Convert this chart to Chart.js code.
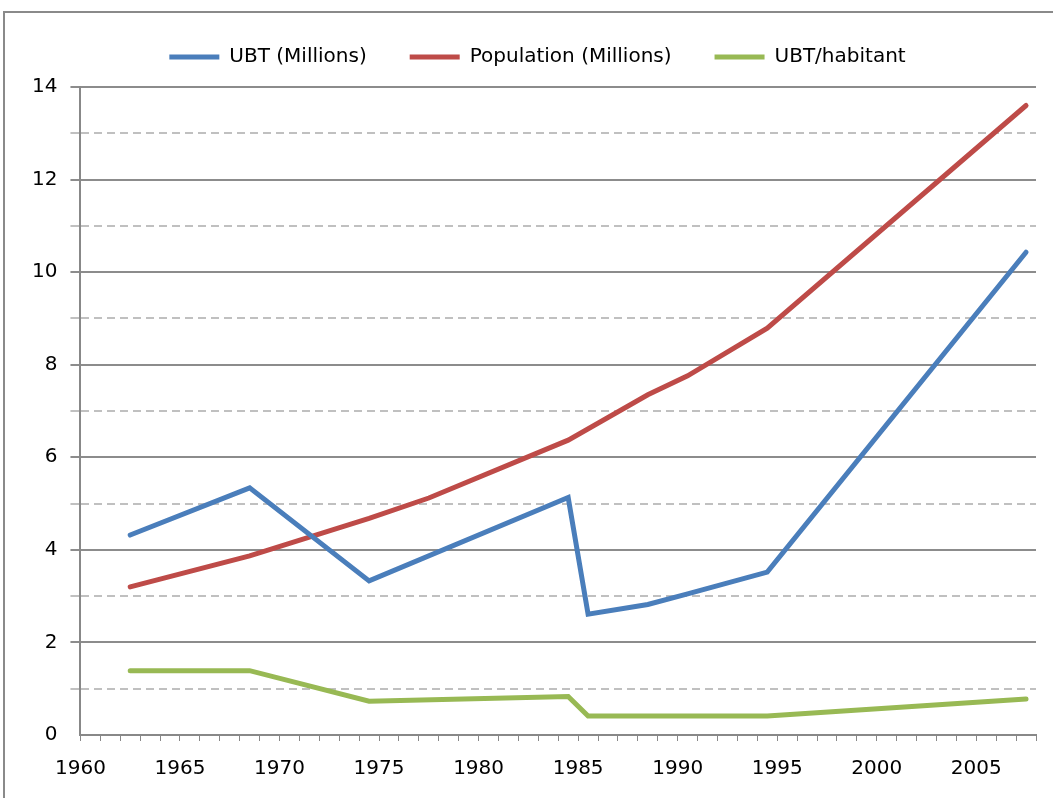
<!DOCTYPE html>
<html>
<head>
<meta charset="utf-8">
<script src="https://cdn.jsdelivr.net/npm/chart.js@4.4.1/dist/chart.umd.min.js"></script>
<style>
  html, body { margin: 0; padding: 0; background: #fff; overflow: hidden; }
  #frame { position: absolute; left: 3px; top: 11px; width: 1070px; height: 820px; border: 2px solid #8a8a8a; }
  #wrap { position: absolute; left: 0; top: 0; width: 1053px; height: 798px; }
</style>
</head>
<body>
<div id="frame"></div>
<div id="wrap"><canvas id="chart"></canvas></div>
<script>
// years where values were read (null = no point for that series)
const years = [1962.5, 1968.5, 1974.5, 1977.5, 1984.5, 1985.5, 1988.5, 1990.5, 1994.5, 2007.5];
const ubt = [4.32, 5.34, 3.33, null, 5.13, 2.61, 2.82, 3.05, 3.52, 10.43];
const population = [3.2, 3.87, 4.68, 5.12, 6.37, null, 7.35, 7.76, 8.79, 13.6];
const ubtPerHab = [1.39, 1.39, 0.73, null, 0.83, 0.41, null, null, 0.41, 0.78];
const seriesNames = ["UBT (Millions)", "Population (Millions)", "UBT/habitant"];
const seriesColors = ["#4a7ebb", "#be4b48", "#98b954"];
const xTickLabels = [1960, 1965, 1970, 1975, 1980, 1985, 1990, 1995, 2000, 2005];
const yTickLabels = [0, 2, 4, 6, 8, 10, 12, 14];

function pts(vals) {
    return years.map((y, i) => ({ x: y, y: vals[i] }));
}

const datasets = [ubt, population, ubtPerHab].map((vals, i) => ({
    label: seriesNames[i],
    data: pts(vals),
    borderColor: seriesColors[i],
    backgroundColor: seriesColors[i],
    borderWidth: 5,
    pointRadius: 0,
    spanGaps: true,
    tension: 0,
    borderCapStyle: 'round',
    borderJoinStyle: 'miter'
}));

// extra room under the legend, and nudge it right like the original
const legendTweak = {
    id: 'legendTweak',
    beforeUpdate(chart) {
        const lg = chart.legend;
        if (lg && !lg._patched) {
            const fit = lg.fit.bind(lg);
            lg.fit = function () { fit(); this.height += 10; };
            lg._patched = true;
        }
    },
    afterLayout(chart) {
        if (chart.legend) {
            chart.legend.left += 10;
            chart.legend.right += 10;
        }
    }
};

const ctx = document.getElementById("chart").getContext("2d");
new Chart(ctx, {
    type: 'line',
    data: { datasets: datasets },
    plugins: [legendTweak],
    options: {
        responsive: true,
        maintainAspectRatio: false,
        animation: false,
        layout: { padding: { left: 19, right: 17, top: 4, bottom: 1 } },
        plugins: {
            legend: {
                position: 'top',
                labels: {
                    usePointStyle: true,
                    pointStyle: 'line',
                    pointStyleWidth: 50,
                    color: '#000',
                    padding: 43,
                    font: { family: 'DejaVu Sans', size: 20 }
                }
            },
            tooltip: { enabled: false }
        },
        scales: {
            x: {
                type: 'linear',
                min: 1960,
                max: 2008,
                ticks: {
                    stepSize: 1,
                    autoSkip: false,
                    maxRotation: 0,
                    padding: 16,
                    color: '#000',
                    font: { family: 'DejaVu Sans', size: 20 },
                    callback: v => xTickLabels.includes(v) ? String(v) : ''
                },
                grid: {
                    drawOnChartArea: false,
                    tickLength: 6,
                    color: '#888'
                },
                border: { color: '#888', width: 2 }
            },
            y: {
                min: 0,
                max: 14,
                ticks: {
                    stepSize: 1,
                    autoSkip: false,
                    padding: 13,
                    color: '#000',
                    font: { family: 'DejaVu Sans', size: 20 },
                    callback: v => yTickLabels.includes(v) ? String(v) : ''
                },
                grid: {
                    tickLength: 10,
                    lineWidth: c => c.tick && c.tick.value === 0 ? 0 : 2,
                    color: c => c.tick && c.tick.value % 2 ? '#c0c0c0' : '#8c8c8c'
                },
                border: {
                    color: '#888',
                    width: 2,
                    dash: c => c.tick && c.tick.value % 2 ? [8, 5] : []
                }
            }
        }
    }
});
</script>
</body>
</html>
